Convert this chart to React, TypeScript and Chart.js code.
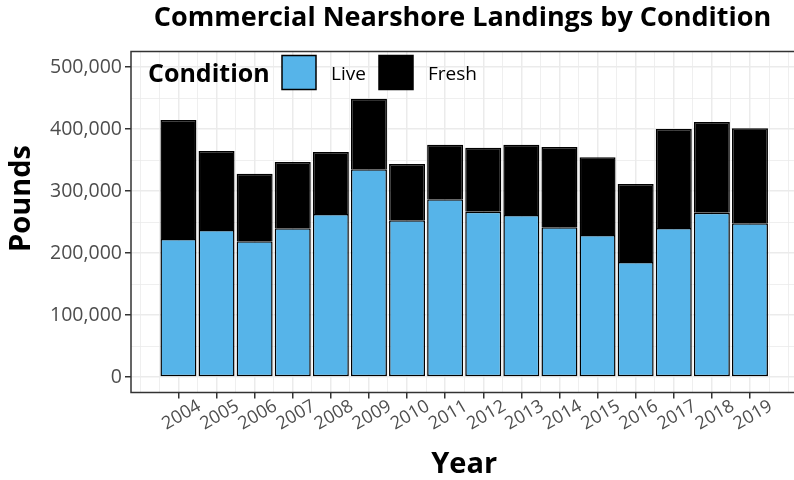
import React, { useEffect, useRef } from "react";
import { Chart, registerables } from "chart.js";

Chart.register(...registerables);

// ---- data ----
const YEARS = [2004, 2005, 2006, 2007, 2008, 2009, 2010, 2011, 2012, 2013, 2014, 2015, 2016, 2017, 2018, 2019];
const LIVE = [222600, 237000, 219000, 240000, 263000, 335000, 253000, 286600, 266600, 261300, 241400, 229000, 185500, 240300, 265000, 247900];
const FRESH = [191900, 127500, 109000, 106800, 99900, 113900, 90500, 88100, 103200, 113400, 129600, 125300, 125800, 159700, 146300, 153200];
const Y_TICKS = [0, 50000, 100000, 150000, 200000, 250000, 300000, 350000, 400000, 450000, 500000];
const Y_MAJOR = [0, 100000, 200000, 300000, 400000, 500000];
const SERIES_NAMES = ["Live", "Fresh"];
const LEGEND_TITLE = "Condition";
const TITLE = "Commercial Nearshore Landings by Condition";
const X_TITLE = "Year";
const Y_TITLE = "Pounds";

// axis limits (ggplot-style expansion)
const X_MIN = 2002.755;
const X_MAX = 2020.245;
const Y_MIN = -25000;
const Y_MAX = 525000;

// grid positions at every half year (major at years, minor in between)
const X_GRID: number[] = [];
for (let v = YEARS[0] - 1; v <= YEARS[YEARS.length - 1] + 1 + 1e-9; v += 0.5) X_GRID.push(v);

const FONT = "'Open Sans', 'DejaVu Sans', sans-serif";
const LIVE_COLOR = "#56B4E9";
const FRESH_COLOR = "#000000";
const GRID = "#EBEBEB";
const DARK = "#333333";
const TICK_TEXT = "#4D4D4D";

const overlayPlugin = {
  id: "overlay",
  afterDraw(chart: any) {
    const { ctx, chartArea } = chart;
    ctx.save();
    // panel border
    ctx.strokeStyle = DARK;
    ctx.lineWidth = 1.5;
    ctx.strokeRect(chartArea.left, chartArea.top, chartArea.right - chartArea.left, chartArea.bottom - chartArea.top);

    // y axis title
    ctx.save();
    ctx.translate(21.5, 198.5);
    ctx.rotate(-Math.PI / 2);
    ctx.fillStyle = "#000";
    ctx.font = `bold 29px ${FONT}`;
    ctx.textAlign = "center";
    ctx.textBaseline = "middle";
    ctx.fillText(Y_TITLE, 0, 0);
    ctx.restore();

    // legend inside the panel
    const lx = chartArea.left;
    const ly = chartArea.top;
    ctx.fillStyle = "#000";
    ctx.textBaseline = "alphabetic";
    ctx.textAlign = "left";
    ctx.font = `bold 25px ${FONT}`;
    ctx.fillText(LEGEND_TITLE, lx + 17, ly + 30.5);
    const colors = [LIVE_COLOR, FRESH_COLOR];
    const boxX = [lx + 151, lx + 248];
    const textX = [lx + 200, lx + 297];
    ctx.font = `19px ${FONT}`;
    for (let i = 0; i < 2; i++) {
      ctx.fillStyle = colors[i];
      ctx.fillRect(boxX[i], ly + 4, 34, 34);
      ctx.strokeStyle = "#000";
      ctx.lineWidth = 1.5;
      ctx.strokeRect(boxX[i], ly + 4, 34, 34);
      ctx.fillStyle = "#000";
      ctx.fillText(SERIES_NAMES[i], textX[i], ly + 28);
    }
    ctx.restore();
  },
};

const isMajorX = (v: number) => YEARS.includes(v);
const isMajorY = (v: number) => Y_MAJOR.includes(v);

export default function App() {
  const ref = useRef<HTMLCanvasElement | null>(null);

  useEffect(() => {
    if (!ref.current) return;
    const chart = new Chart(ref.current, {
      type: "bar",
      data: {
        datasets: [
          {
            label: SERIES_NAMES[0],
            data: YEARS.map((y, i) => ({ x: y, y: LIVE[i] })),
            backgroundColor: LIVE_COLOR,
            borderColor: "#000",
            borderWidth: 1.5,
            borderSkipped: false,
            categoryPercentage: 2,
            barPercentage: 0.945,
          },
          {
            label: SERIES_NAMES[1],
            data: YEARS.map((y, i) => ({ x: y, y: FRESH[i] })),
            backgroundColor: FRESH_COLOR,
            borderColor: "#000",
            borderWidth: 1.5,
            borderSkipped: "start",
            categoryPercentage: 2,
            barPercentage: 0.945,
          },
        ],
      } as any,
      options: {
        animation: false,
        responsive: false,
        maintainAspectRatio: false,
        devicePixelRatio: 1,
        layout: { padding: 0 },
        plugins: {
          legend: { display: false },
          tooltip: { enabled: false },
          title: {
            display: true,
            text: TITLE,
            color: "#000",
            font: { family: FONT, size: 27, weight: "bold" },
            padding: { top: 1.8, bottom: 17.3 },
          },
        },
        scales: {
          x: {
            type: "linear",
            min: X_MIN,
            max: X_MAX,
            stacked: true,
            offset: false,
            afterBuildTicks: (s: any) => {
              s.ticks = X_GRID.map((v) => ({ value: v }));
            },
            afterFit: (s: any) => {
              s.height = 87.5;
            },
            border: { display: false },
            grid: {
              offset: false,
              color: GRID,
              lineWidth: (c: any) => (c.tick && isMajorX(c.tick.value) ? 1.5 : 0.8),
              tickColor: (c: any) => (c.tick && isMajorX(c.tick.value) ? DARK : "rgba(0,0,0,0)"),
              tickWidth: 1.5,
              tickLength: 6,
            },
            ticks: {
              autoSkip: false,
              maxRotation: 30,
              minRotation: 30,
              labelOffset: 21,
              padding: -3,
              color: TICK_TEXT,
              font: { family: FONT, size: 18 },
              callback: (v: any) => (isMajorX(Number(v)) ? String(v) : ""),
            },
            title: {
              display: true,
              text: X_TITLE,
              color: "#000",
              font: { family: FONT, size: 29, weight: "bold" },
              padding: { top: 0, bottom: -2 },
            },
          },
          y: {
            min: Y_MIN,
            max: Y_MAX,
            stacked: true,
            afterBuildTicks: (s: any) => {
              s.ticks = Y_TICKS.map((v) => ({ value: v }));
            },
            afterFit: (s: any) => {
              s.width = 131;
            },
            border: { display: false },
            grid: {
              color: GRID,
              lineWidth: (c: any) => (c.tick && isMajorY(c.tick.value) ? 1.5 : 0.8),
              tickColor: (c: any) => (c.tick && isMajorY(c.tick.value) ? DARK : "rgba(0,0,0,0)"),
              tickWidth: 1.5,
              tickLength: 6,
            },
            ticks: {
              autoSkip: false,
              padding: 3,
              color: TICK_TEXT,
              font: { family: FONT, size: 19.5 },
              callback: (v: any) => (isMajorY(Number(v)) ? Number(v).toLocaleString("en-US") : ""),
            },
          },
          // empty right-hand spacer so the panel runs past the picture's right edge
          // while the title stays centred on the full plot width
          spacer: {
            type: "linear",
            position: "right",
            display: true,
            grid: { display: false, drawTicks: false },
            border: { display: false },
            ticks: { display: false },
            afterFit: (s: any) => {
              s.width = 127.6;
            },
          },
        },
      } as any,
      plugins: [overlayPlugin],
    });
    return () => chart.destroy();
  }, []);

  return (
    <div style={{ position: "fixed", left: 0, top: 0, width: 794, height: 480, overflow: "hidden", background: "#fff" }}>
      <canvas ref={ref} width={925} height={480} style={{ display: "block", width: 925, height: 480 }} />
    </div>
  );
}
